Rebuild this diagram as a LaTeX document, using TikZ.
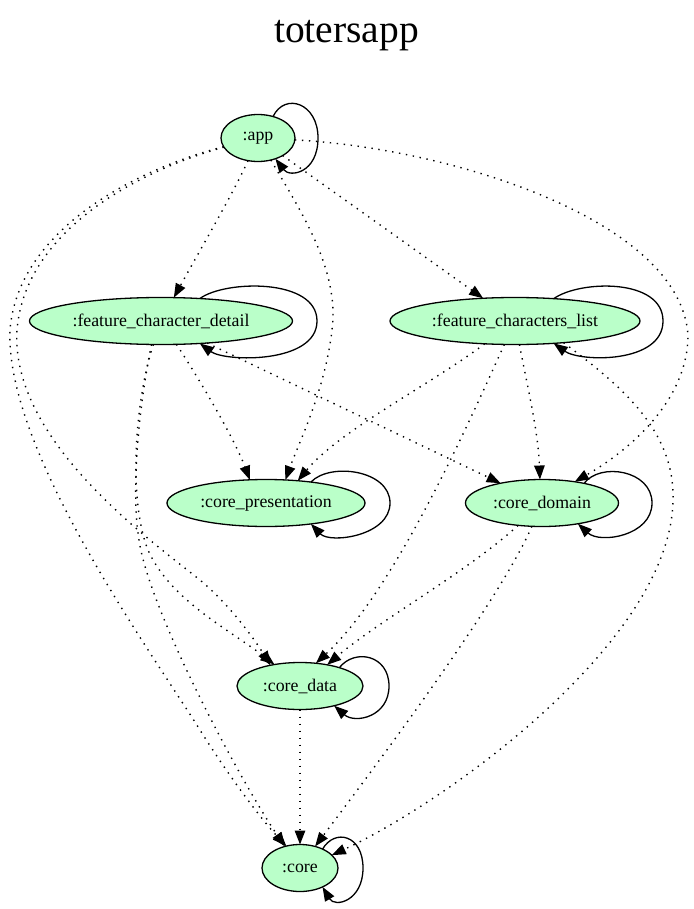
\documentclass[tikz,border=0pt]{standalone}
\usepackage{fontspec}
\setmainfont{Liberation Serif}
\usetikzlibrary{shapes.geometric,arrows.meta}
\definecolor{nodefill}{RGB}{186,255,201}
\begin{document}
\begin{tikzpicture}[x=1pt,y=-1pt,
  mod/.style={ellipse,draw=black,line width=1.3pt,fill=nodefill,inner sep=0pt,outer sep=0pt,minimum height=47pt,font=\fontsize{17.8}{20}\selectfont},
  dep/.style={line width=1.4pt,dash pattern=on 1.4pt off 5.6pt,-{Triangle[length=14pt,width=10.5pt]}},
  selfloop/.style={line width=1.3pt,-{Triangle[length=14pt,width=10.5pt]}}]
\useasboundingbox (0,0) rectangle (693,909);
\node[anchor=base,font=\fontsize{39.5}{41}\selectfont] (title) at (346.5,43) {totersapp};
\node[mod,minimum width=74pt] (app) at (258,138) {:app};
\node[mod,minimum width=263pt] (fcd) at (161,321) {:feature\_character\_detail};
\node[mod,minimum width=250pt] (fcl) at (515,321) {:feature\_characters\_list};
\node[mod,minimum width=198pt] (cp) at (266,503) {:core\_presentation};
\node[mod,minimum width=153pt] (cd) at (542,503) {:core\_domain};
\node[mod,minimum width=126pt] (cdata) at (300,686) {:core\_data};
\node[mod,minimum width=76pt] (core) at (300,868) {:core};

% app
\draw[selfloop] (app.55) .. controls (285,92) and (318,103) .. (318,138) .. controls (318,173) and (290,178) .. (app.-50);
\draw[dep] (app) .. controls (235,190) and (200,250) .. (fcd);
\draw[dep] (app) -- (fcl);
\draw[dep] (app) .. controls (300,210) and (340,270) .. (332,330) .. controls (325,390) and (300,440) .. (cp.50);
\draw[dep] (app) .. controls (450,148) and (680,220) .. (688,335) .. controls (688,400) and (630,450) .. (cd.33);
\draw[dep] (app) .. controls (140,170) and (25,230) .. (17,330) .. controls (10,440) and (150,540) .. (200,580) .. controls (230,605) and (255,640) .. (cdata.145);
\draw[dep] (app) .. controls (140,168) and (18,228) .. (10,330) .. controls (5,450) and (150,650) .. (200,730) .. controls (230,778) and (262,820) .. (core.122);

% feature_character_detail
\draw[selfloop] (fcd.30) .. controls (225,280) and (317,278) .. (317,321) .. controls (317,364) and (225,362) .. (fcd.-30);
\draw[dep] (fcd) .. controls (200,380) and (235,440) .. (cp.125);
\draw[dep] (fcd) -- (cd);
\draw[dep] (fcd.252) .. controls (135,400) and (128,500) .. (148,550) .. controls (170,600) and (230,630) .. (cdata.140);
\draw[dep] (fcd.248) .. controls (140,400) and (128,500) .. (142,555) .. controls (160,630) and (240,780) .. (core.125);

% feature_characters_list
\draw[selfloop] (fcl.30) .. controls (580,280) and (663,278) .. (663,321) .. controls (663,364) and (580,362) .. (fcl.-30);
\draw[dep] (fcl) .. controls (430,385) and (340,430) .. (cp.35);
\draw[dep] (fcl) .. controls (528,390) and (538,430) .. (cd.95);
\draw[dep] (fcl) .. controls (470,420) and (395,590) .. (cdata.55);
\draw[dep] (fcl.-24) .. controls (620,385) and (675,430) .. (673,500) .. controls (671,640) and (450,800) .. (core.22);

% core_presentation
\draw[selfloop] (cp.25) .. controls (330,462) and (390,470) .. (390,503) .. controls (390,536) and (330,544) .. (cp.-25);

% core_domain
\draw[selfloop] (cd.25) .. controls (600,462) and (652,470) .. (652,503) .. controls (652,536) and (600,544) .. (cd.-30);
\draw[dep] (cd) .. controls (470,570) and (380,620) .. (cdata.38);
\draw[dep] (cd) .. controls (500,600) and (380,760) .. (core.55);

% core_data
\draw[selfloop] (cdata.25) .. controls (355,648) and (389,655) .. (389,686) .. controls (389,717) and (355,724) .. (cdata.-30);
\draw[dep] (cdata) -- (core);

% core
\draw[selfloop] (core.40) .. controls (335,828) and (363,835) .. (363,868) .. controls (363,901) and (335,908) .. (core.-40);
\end{tikzpicture}
\end{document}
